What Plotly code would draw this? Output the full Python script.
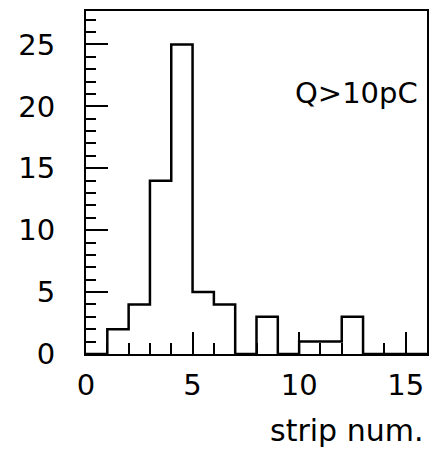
import plotly.graph_objects as go

bin_edges = list(range(0, 17))
counts = [0, 2, 4, 14, 25, 5, 4, 0, 3, 0, 1, 1, 3, 0, 0, 0]
x_ticks = [0, 5, 10, 15]
y_ticks = [0, 5, 10, 15, 20, 25]

fig = go.Figure()
fig.add_trace(go.Scatter(
    x=bin_edges, y=counts + [counts[-1]],
    mode="lines", line=dict(shape="hv", color="black", width=2.5),
    showlegend=False, hoverinfo="skip"))

FAM = "DejaVu Sans, Liberation Sans, sans-serif"
font = dict(family=FAM, size=29, color="black")

fig.update_layout(
    width=431, height=449,
    margin=dict(l=86, r=2, t=11, b=95),
    paper_bgcolor="white", plot_bgcolor="white",
    font=font,
    xaxis=dict(range=[0, 16], tickvals=x_ticks, ticks="inside", ticklen=22,
               tickwidth=2, tickcolor="black", showgrid=False, zeroline=False,
               showline=True, linecolor="black", linewidth=2, mirror=True,
               ticklabelstandoff=4,
               minor=dict(ticks="inside", ticklen=11, tickwidth=2, dtick=1,
                          tickcolor="black", showgrid=False)),
    yaxis=dict(range=[0, 27.7], tickvals=y_ticks, ticks="inside", ticklen=22,
               tickwidth=2, tickcolor="black", showgrid=False, zeroline=False,
               showline=True, linecolor="black", linewidth=2, mirror=True,
               ticklabelstandoff=23,
               minor=dict(ticks="inside", ticklen=10, tickwidth=2, dtick=1,
                          tickcolor="black", showgrid=False)),
    annotations=[
        dict(text="Q>10pC", xref="paper", yref="paper", x=0.98, y=0.76,
             xanchor="right", yanchor="middle", showarrow=False,
             font=dict(family=FAM, size=29, color="black")),
        dict(text="strip num.", xref="paper", yref="paper", x=0.994, y=-0.222,
             xanchor="right", yanchor="middle", showarrow=False,
             font=dict(family=FAM, size=30, color="black")),
    ],
)

fig.write_html("out.html", config={"displayModeBar": False},
               post_script="document.body.style.margin='0';document.body.style.overflow='hidden';")
